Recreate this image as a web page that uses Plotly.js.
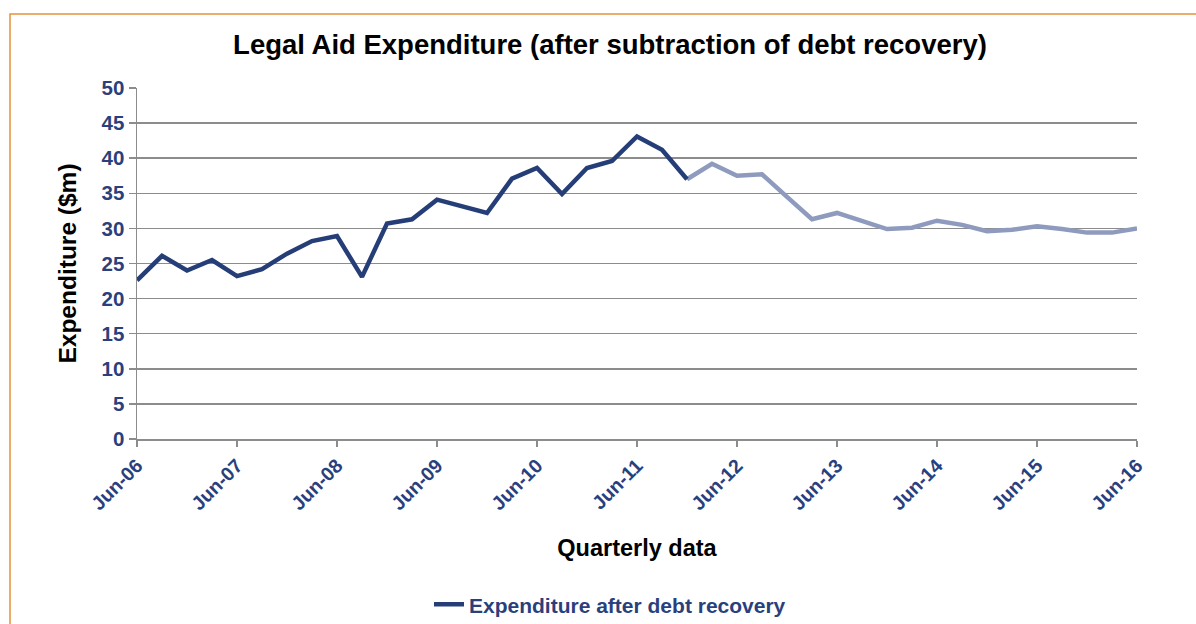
<!DOCTYPE html>
<html>
<head>
<meta charset="utf-8">
<script src="https://cdn.plot.ly/plotly-3.0.1.min.js"></script>
<style>
html,body{margin:0;padding:0;background:#fff;}
#chart{width:1196px;height:624px;}
</style>
</head>
<body>
<div id="chart"></div>
<script>
// Quarterly categories
const quarters = [
  "Jun-06","Sep-06","Dec-06","Mar-07","Jun-07","Sep-07","Dec-07","Mar-08",
  "Jun-08","Sep-08","Dec-08","Mar-09","Jun-09","Sep-09","Dec-09","Mar-10",
  "Jun-10","Sep-10","Dec-10","Mar-11","Jun-11","Sep-11","Dec-11","Mar-12",
  "Jun-12","Sep-12","Dec-12","Mar-13","Jun-13","Sep-13","Dec-13","Mar-14",
  "Jun-14","Sep-14","Dec-14","Mar-15","Jun-15","Sep-15","Dec-15","Mar-16",
  "Jun-16"
];
// Actual expenditure after debt recovery (Jun-06 .. Dec-11)
const actualQuarters = quarters.slice(0, 23);
const actualValues = [
  22.6, 26.1, 24.0, 25.5, 23.2, 24.2, 26.4, 28.2, 28.9, 23.1,
  30.7, 31.3, 34.1, 33.2, 32.2, 37.1, 38.6, 34.9, 38.6, 39.6,
  43.1, 41.2, 37.0
];
// Projected expenditure (Dec-11 .. Jun-16)
const projQuarters = quarters.slice(22);
const projValues = [
  37.0, 39.2, 37.5, 37.7, 34.5, 31.3, 32.2, 31.0, 29.9, 30.1,
  31.1, 30.5, 29.6, 29.8, 30.3, 29.9, 29.4, 29.4, 30.0
];
// Tick labels
const tickLabels = ["Jun-06","Jun-07","Jun-08","Jun-09","Jun-10","Jun-11","Jun-12","Jun-13","Jun-14","Jun-15","Jun-16"];

const darkBlue = "#263E78";
const lightBlue = "#8E9BBE";
const tickBlue = "#2B3F7C";
const gridGray = "#8C8C8C";

const traces = [
  {
    x: projQuarters, y: projValues, type: "scatter", mode: "lines",
    line: {color: lightBlue, width: 4.5}, showlegend: false, hoverinfo: "x+y"
  },
  {
    x: actualQuarters, y: actualValues, type: "scatter", mode: "lines",
    name: "<b>Expenditure after debt recovery</b>",
    line: {color: darkBlue, width: 4.5}
  }
];

const layout = {
  width: 1196, height: 624,
  margin: {l: 137, r: 59, t: 88, b: 185, autoexpand: false},
  paper_bgcolor: "#fff", plot_bgcolor: "#fff",
  font: {family: "Liberation Sans, Arial, sans-serif"},
  title: {
    text: "<b>Legal Aid Expenditure (after subtraction of debt recovery)</b>",
    font: {size: 27.5, color: "#000"},
    x: 0.473, xref: "paper", xanchor: "center",
    y: 45, yref: "container", yanchor: "middle"
  },
  xaxis: {
    type: "category",
    categoryorder: "array", categoryarray: quarters,
    range: [0, 40],
    automargin: false,
    tickmode: "array", tickvals: tickLabels, ticktext: tickLabels.map(t => "<b>" + t + "</b>"),
    tickangle: -45,
    tickfont: {size: 19.5, color: tickBlue},
    ticks: "outside", ticklen: 6, tickcolor: gridGray, tickwidth: 1.5,
    showgrid: false, zeroline: false,
    showline: true, linecolor: gridGray, linewidth: 1.5,
    title: {text: "<b>Quarterly data</b>", font: {size: 23.5, color: "#000"}, standoff: 26}
  },
  yaxis: {
    range: [0, 50], dtick: 5, tick0: 0,
    automargin: false,
    tickfont: {size: 20.5, color: tickBlue},
    tickprefix: "<b>", ticksuffix: "</b>",
    ticks: "outside", ticklen: 7, tickcolor: gridGray, tickwidth: 1.5,
    showgrid: true, gridcolor: gridGray, gridwidth: 1.5,
    zeroline: false,
    showline: true, linecolor: gridGray, linewidth: 1.5,
    title: {text: "<b>Expenditure ($m)</b>", font: {size: 24.5, color: "#000"}, standoff: 18}
  },
  legend: {
    orientation: "h",
    x: 0.473, xanchor: "center",
    yref: "container", y: 0.031, yanchor: "middle",
    font: {size: 21, color: tickBlue, family: "Liberation Sans, Arial, sans-serif"},
    itemwidth: 30
  },
  shapes: [{
    type: "rect", xref: "paper", yref: "paper",
    x0: -0.127, x1: 1.3, y0: -0.8, y1: 1.2108,
    line: {color: "#E8923A", width: 1.5}, fillcolor: "rgba(0,0,0,0)", layer: "below"
  }],
  showlegend: true
};

Plotly.newPlot("chart", traces, layout, {displayModeBar: false, staticPlot: true});
</script>
</body>
</html>
